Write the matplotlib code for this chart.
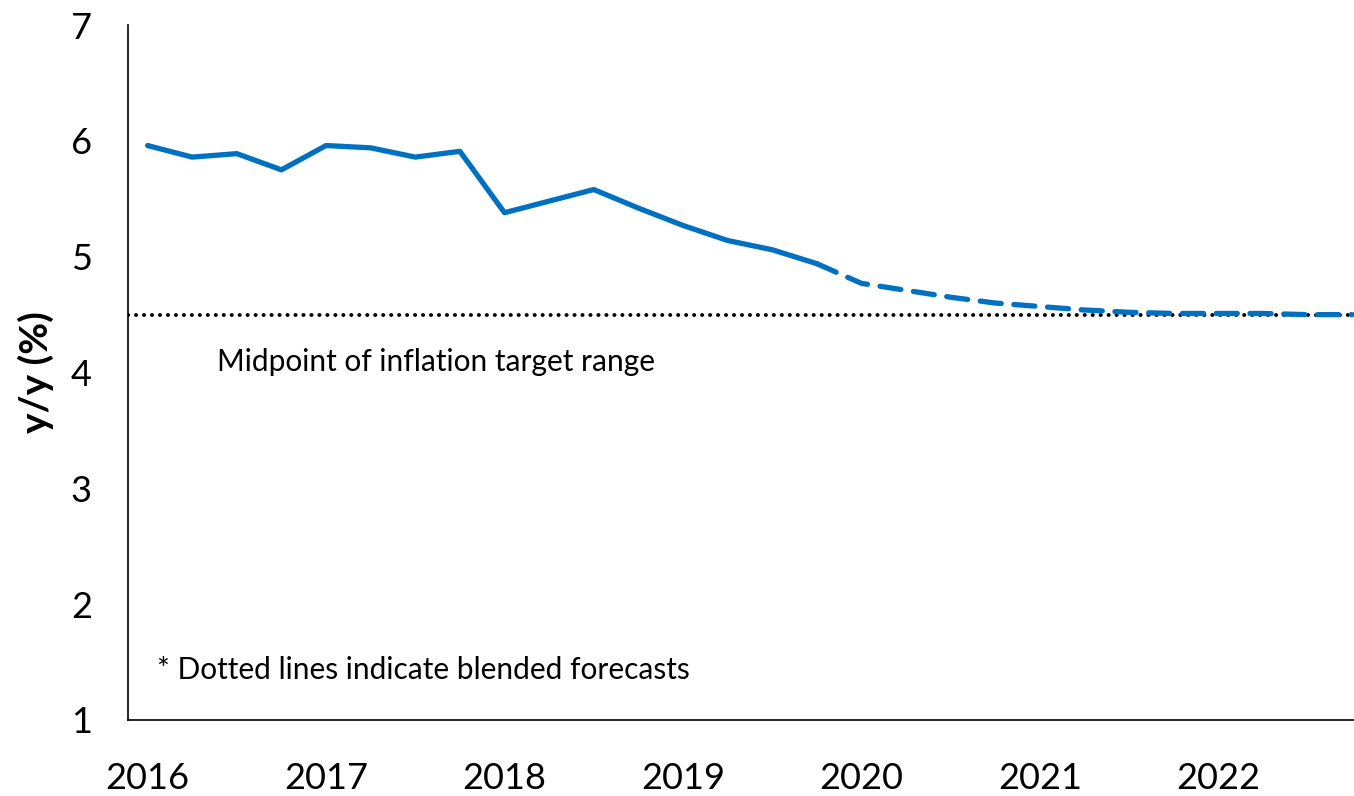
import numpy as np
import matplotlib
matplotlib.use("Agg")
from matplotlib import pyplot as plt

plt.rcParams['font.family'] = ['Lato', 'DejaVu Sans']

# quarterly y/y inflation, actual part
actual_x = [2016.0, 2016.25, 2016.5, 2016.75, 2017.0, 2017.25, 2017.5, 2017.75,
            2018.0, 2018.25, 2018.5, 2018.75, 2019.0, 2019.25, 2019.5, 2019.75]
actual_y = [5.96, 5.86, 5.89, 5.75, 5.96, 5.94, 5.86, 5.91,
            5.38, 5.48, 5.58, 5.42, 5.27, 5.14, 5.06, 4.94]

# blended forecast
fc_x = [2019.75, 2020.0, 2020.25, 2020.5, 2020.75, 2021.0, 2021.25, 2021.5,
        2021.75, 2022.0, 2022.25, 2022.5, 2022.75]
fc_y = [4.94, 4.77, 4.71, 4.65, 4.60, 4.57, 4.54, 4.52,
        4.51, 4.51, 4.51, 4.50, 4.50]

target_mid = 4.5
year_ticks = [2016, 2017, 2018, 2019, 2020, 2021, 2022]
y_ticks = [1, 2, 3, 4, 5, 6, 7]

blue = '#0070C0'

fig = plt.figure(figsize=(13.54, 7.96), dpi=100)
ax = fig.add_axes([0.0945, 0.0955, 0.9055, 0.873])

ax.axhline(target_mid, color='black', lw=2.8, linestyle=(0, (0.05, 2.0)),
           dash_capstyle='round', zorder=1)
ax.plot(actual_x, actual_y, color=blue, lw=3.8, solid_capstyle='round',
        solid_joinstyle='round', zorder=2)
ax.plot(fc_x, fc_y, color=blue, lw=3.8, linestyle=(0, (4.0, 2.4)),
        dash_capstyle='round', zorder=2)

ax.set_xlim(2015.89, 2022.76)
ax.set_ylim(1, 7)
ax.set_xticks(year_ticks)
ax.set_yticks(y_ticks)
ax.tick_params(axis='both', length=0, labelsize=26)
ax.tick_params(axis='x', pad=30)
ax.tick_params(axis='y', pad=26)

for s in ['top', 'right']:
    ax.spines[s].set_visible(False)
for s in ['left', 'bottom']:
    ax.spines[s].set_linewidth(1.2)

ax.set_ylabel('y/y (%)', fontsize=28, fontweight='bold', labelpad=12)

ax.text(2016.39, 4.09, 'Midpoint of inflation target range', fontsize=21.5,
        va='center', ha='left')
ax.text(2016.05, 1.43, '* Dotted lines indicate blended forecasts', fontsize=21.5,
        va='center', ha='left')

fig.savefig('out.png', dpi=100)
